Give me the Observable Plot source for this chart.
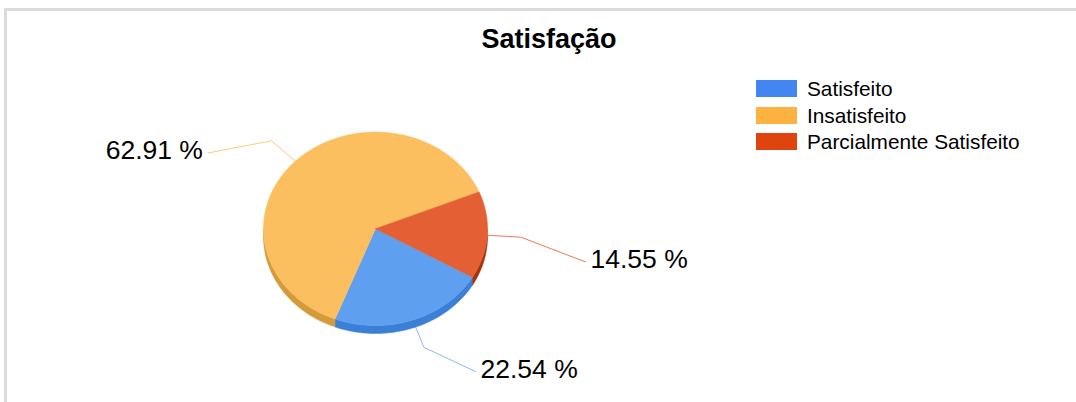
<!DOCTYPE html>
<html><head><meta charset="utf-8">
<script src="https://cdn.jsdelivr.net/npm/d3@7"></script>
<script src="https://cdn.jsdelivr.net/npm/@observablehq/plot@0.6"></script>
<style>
html,body{margin:0;padding:0;background:#fff;overflow:hidden;}
body{width:1076px;height:402px;position:relative;font-family:"Liberation Sans",Arial,sans-serif;}
#chart{position:absolute;left:0;top:0;}
#border{position:absolute;left:4px;top:8px;width:1200px;height:600px;border:3px solid #dcdcdc;pointer-events:none;z-index:2;}
#title{position:absolute;left:0;width:1098px;top:26px;text-align:center;font-weight:bold;font-size:27px;line-height:27px;color:#000;z-index:3;}
#legend{position:absolute;left:756px;top:80px;z-index:3;}
.row{display:flex;align-items:center;height:17px;margin-bottom:9.7px;}
.sw{width:41px;height:17px;margin-right:10px;}
.lt{font-size:20.8px;line-height:17px;color:#000;white-space:nowrap;}
</style></head>
<body>
<div id="chart"></div>
<div id="border"></div>
<div id="title">Satisfação</div>
<div id="legend"></div>
<script>
// ---- data ----
const categories = ["Satisfeito", "Insatisfeito", "Parcialmente Satisfeito"];
const percents = [22.54, 62.91, 14.55];
const labels = ["22.54 %", "62.91 %", "14.55 %"];
// ---- styles ----
const topColors = ["#5e9ff0", "#fbbf5f", "#e45f33"];
const sideColors = ["#3b7fd6", "#d49b3c", "#a3330b"];
const legendColors = ["#4286f2", "#fbb240", "#df430e"];
const lineColors = ["#8cb8f5", "#fccb80", "#ec7a55"];
// ---- layout ----
const W = 1076, H = 402;
const cx = 375, cy = 228.3, rx = 112, ry = 96.7, depth = 8;
const startDeg = 120;
const elbowFactor = 1.3;
const labelShift = [[0.46, -0.25], [-0.567, -0.125], [0.578, -0.256]];
const dz = depth / ry;

const rad = d => d * Math.PI / 180;
const pt = (a, r = 1, z = 0) => ({x: r * Math.sin(rad(a)), y: r * Math.cos(rad(a)) - z});

const total = d3.sum(percents);
let acc = startDeg;
const slices = categories.map((c, i) => {
  const a0 = acc, a1 = acc + percents[i] / total * 360;
  acc = a1;
  return {c, i, a0, a1, mid: (a0 + a1) / 2};
});

function arc(a0, a1, z = 0) {
  const n = Math.max(2, Math.ceil(Math.abs(a1 - a0)));
  return d3.range(n + 1).map(k => pt(a0 + (a1 - a0) * k / n, 1, z));
}

const marks = [];
// leader lines (under the pie)
slices.forEach(s => {
  const e = pt(s.mid), b = pt(s.mid, elbowFactor);
  const end = {x: b.x + labelShift[s.i][0], y: b.y + labelShift[s.i][1]};
  s.end = end;
  marks.push(Plot.line([e, b, end], {x: "x", y: "y", stroke: lineColors[s.i], strokeWidth: 1}));
});
// side walls (front half: compass 90..270)
slices.forEach(s => {
  for (let k = -1; k <= 1; k++) {
    const lo = Math.max(s.a0, 90 + 360 * k), hi = Math.min(s.a1, 270 + 360 * k);
    if (hi > lo) {
      const poly = arc(lo, hi, 0).concat(arc(hi, lo, dz));
      marks.push(Plot.line(poly, {x: "x", y: "y", fill: sideColors[s.i], stroke: sideColors[s.i], strokeWidth: 0.5}));
    }
  }
});
// top faces
slices.forEach(s => {
  const poly = [{x: 0, y: 0}].concat(arc(s.a0, s.a1)).concat([{x: 0, y: 0}]);
  marks.push(Plot.line(poly, {x: "x", y: "y", fill: topColors[s.i], stroke: topColors[s.i], strokeWidth: 0.6}));
});
// labels
slices.forEach(s => {
  const left = s.end.x < pt(s.mid, elbowFactor).x;
  marks.push(Plot.text([s], {
    x: d => d.end.x, y: d => d.end.y, text: d => labels[d.i],
    textAnchor: left ? "end" : "start", dx: left ? -5 : 5, dy: -2,
    fontSize: 26.5, fill: "#000"
  }));
});

const chart = Plot.plot({
  width: W, height: H,
  marginTop: 0, marginRight: 0, marginBottom: 0, marginLeft: 0,
  x: {domain: [-cx / rx, (W - cx) / rx], range: [0, W], axis: null},
  y: {domain: [-(H - cy) / ry, cy / ry], range: [H, 0], axis: null},
  style: {background: "transparent", fontFamily: "'Liberation Sans', Arial, sans-serif"},
  marks
});
document.getElementById("chart").appendChild(chart);

const legend = document.getElementById("legend");
categories.forEach((c, i) => {
  const row = document.createElement("div");
  row.className = "row";
  row.innerHTML = `<div class="sw" style="background:${legendColors[i]}"></div><div class="lt">${c}</div>`;
  legend.appendChild(row);
});
</script>
</body></html>
